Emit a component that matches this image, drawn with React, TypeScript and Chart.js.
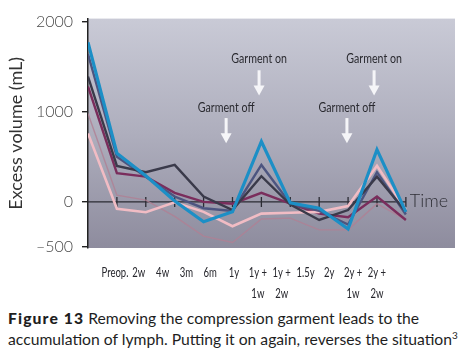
import React, { useEffect, useRef } from 'react';
import { Chart, registerables } from 'chart.js';

Chart.register(...registerables);

// ---- data ----
const categories = ['Preop.', '2w', '4w', '3m', '6m', '1y', '1y +\n1w', '1y +\n2w', '1.5y', '2y', '2y +\n1w', '2y +\n2w'];
const yTicks = [-500, 0, 1000, 2000];

const cyanSeries = [1770, 540, 290, 10, -220, -110, 670, -10, -70, -300, 580, -110];
const slateSeries = [1640, 500, 280, 60, -70, -100, 410, -20, -100, -250, 330, -140];
const charcoalSeries = [1390, 400, 330, 410, 60, -90, 285, -30, -200, -90, 280, -110];
const maroonSeries = [1280, 320, 280, 100, 0, -20, 100, -20, -130, -170, 60, -200];
const pinkSeries = [760, -75, -115, -5, -110, -270, -130, -120, -110, -45, 400, -90];
const mauveSeries = [980, 75, 20, -160, -380, -450, -190, -180, -310, -310, -20, -200];

// annotations: label, position along the time axis (category index), text value, arrow start, arrow end
const annLabels = ['Garment off', 'Garment on', 'Garment off', 'Garment on'];
const annIndex = [4.78, 5.92, 8.96, 9.9];
const annTextY = [1050, 1590, 1050, 1590];
const annArrowTop = [930, 1460, 930, 1460];
const annArrowBottom = [650, 1180, 650, 1180];

const HUMAN = 'Lato, "Open Sans", sans-serif';

const toPoints = (arr: number[]) => arr.map((v, i) => ({ x: i, y: v }));

// draws condensed text (real canvas text, squeezed horizontally)
function narrowText(ctx: CanvasRenderingContext2D, text: string, x: number, y: number, sx: number) {
  ctx.save();
  ctx.translate(x, y);
  ctx.scale(sx, 1);
  ctx.fillText(text, 0, 0);
  ctx.restore();
}

const bgPlugin = {
  id: 'bgGrad',
  beforeDraw(chart: any) {
    const { ctx, chartArea } = chart;
    const g = ctx.createLinearGradient(0, chartArea.top, 0, chartArea.bottom);
    g.addColorStop(0, '#c9cad6');
    g.addColorStop(0.5, '#aeaebd');
    g.addColorStop(1, '#8e8c9e');
    ctx.save();
    ctx.fillStyle = g;
    ctx.fillRect(chartArea.left, chartArea.top, chartArea.right - chartArea.left, chartArea.bottom - chartArea.top);
    ctx.restore();
  },
};

const zeroPlugin = {
  id: 'zeroAxis',
  beforeDatasetsDraw(chart: any) {
    const { ctx } = chart;
    const xs = chart.scales.x;
    const ys = chart.scales.y;
    const y0 = ys.getPixelForValue(0);
    const xEnd = xs.getPixelForValue(categories.length - 1);
    ctx.save();
    ctx.strokeStyle = '#2b2b33';
    ctx.lineWidth = 1.3;
    ctx.beginPath();
    ctx.moveTo(chart.chartArea.left, y0);
    ctx.lineTo(xEnd, y0);
    for (let i = 1; i < categories.length; i++) {
      const px = xs.getPixelForValue(i);
      ctx.moveTo(px, y0 - 5);
      ctx.lineTo(px, y0 + 5);
    }
    ctx.stroke();
    ctx.fillStyle = '#2f2f36';
    ctx.font = '300 18px ' + HUMAN;
    ctx.textAlign = 'left';
    ctx.textBaseline = 'middle';
    ctx.fillText('Time', xEnd + 4, y0 - 1);
    ctx.restore();
  },
};

const labelPlugin = {
  id: 'timeLabels',
  afterDraw(chart: any) {
    const { ctx } = chart;
    const xl = chart.scales.xl;
    const top = chart.chartArea.bottom;
    ctx.save();
    ctx.fillStyle = '#26262c';
    ctx.font = '14px ' + HUMAN;
    ctx.textAlign = 'center';
    ctx.textBaseline = 'middle';
    categories.forEach((c, i) => {
      const px = xl.getPixelForValue(i);
      c.split('\n').forEach((line, j) => {
        narrowText(ctx, line, px, top + 24 + j * 21, 0.68);
      });
    });
    ctx.restore();
  },
};

const annPlugin = {
  id: 'garmentNotes',
  afterDatasetsDraw(chart: any) {
    const { ctx } = chart;
    const xs = chart.scales.x;
    const ys = chart.scales.y;
    ctx.save();
    annLabels.forEach((lab, k) => {
      const px = xs.getPixelForValue(annIndex[k]);
      const ty = ys.getPixelForValue(annTextY[k]);
      const a0 = ys.getPixelForValue(annArrowTop[k]);
      const a1 = ys.getPixelForValue(annArrowBottom[k]);
      ctx.fillStyle = '#2a2a30';
      ctx.font = '14px ' + HUMAN;
      ctx.textAlign = 'center';
      ctx.textBaseline = 'middle';
      narrowText(ctx, lab, px, ty, 0.76);
      // arrow
      ctx.fillStyle = '#f5f5f8';
      ctx.fillRect(px - 1.5, a0, 3, a1 - a0 - 8);
      ctx.beginPath();
      ctx.moveTo(px - 5.5, a1 - 10);
      ctx.lineTo(px + 5.5, a1 - 10);
      ctx.lineTo(px, a1);
      ctx.closePath();
      ctx.fill();
    });
    ctx.restore();
  },
};

export default function App() {
  const ref = useRef<HTMLCanvasElement | null>(null);

  useEffect(() => {
    if (!ref.current) return;
    const mk = (label: string, data: number[], color: string, width: number) => ({
      label,
      data: toPoints(data),
      borderColor: color,
      backgroundColor: color,
      borderWidth: width,
      pointRadius: 0,
      tension: 0,
      fill: false,
    });
    const chart = new Chart(ref.current, {
      type: 'line',
      data: {
        datasets: [
          mk('Patient A', cyanSeries, '#1c8fc6', 3.2),
          mk('Patient B', charcoalSeries, '#3a3a4a', 2.4),
          mk('Patient C', slateSeries, '#4d5580', 2.4),
          mk('Patient D', pinkSeries, '#f1bcc4', 2.6),
          mk('Patient E', maroonSeries, '#7a2d5c', 2.4),
          mk('Patient F', mauveSeries, 'rgba(176,128,148,0.8)', 1.4),
        ],
      },
      options: {
        animation: false,
        responsive: false,
        maintainAspectRatio: false,
        layout: { padding: { top: 18, right: 3, left: 0, bottom: 0 } },
        plugins: { legend: { display: false }, tooltip: { enabled: false }, title: { display: false } },
        scales: {
          x: {
            type: 'linear',
            display: false,
            min: 0,
            max: 12.7,
          },
          xl: {
            type: 'linear',
            position: 'bottom',
            min: -1.134,
            max: 14.28,
            afterBuildTicks: (s: any) => {
              s.ticks = categories.map((_, i) => ({ value: i }));
            },
            afterFit: (s: any) => {
              s.height = 52;
            },
            grid: { display: false, drawTicks: false },
            border: { display: false },
            ticks: { display: false },
          },
          y: {
            type: 'linear',
            min: -511,
            max: 2033,
            afterBuildTicks: (s: any) => {
              s.ticks = yTicks.map((v) => ({ value: v }));
            },
            afterFit: (s: any) => {
              s.width = 88;
            },
            grid: { drawOnChartArea: false, drawTicks: true, tickLength: 6, color: '#222', lineWidth: 1.4 },
            border: { display: true, color: '#222', width: 1.5 },
            ticks: {
              padding: 9,
              color: '#4a4a4a',
              font: { family: HUMAN, size: 16, weight: '300' },
              callback: (v: any) => (v < 0 ? '\u2013' + Math.abs(v) : String(v)),
            },
            title: {
              display: true,
              text: 'Excess volume (mL)',
              color: '#333',
              padding: { top: 5, bottom: 0 },
              font: { family: HUMAN, size: 18, weight: '400' },
            },
          },
        },
      },
      plugins: [bgPlugin, zeroPlugin, annPlugin, labelPlugin],
    });
    return () => chart.destroy();
  }, []);

  return (
    <div style={{ position: 'fixed', left: 0, top: 0, width: 458, height: 354, background: '#fff', overflow: 'hidden' }}>
      <canvas ref={ref} width={458} height={300} style={{ display: 'block', width: 458, height: 300 }} />
      <div
        style={{
          position: 'absolute',
          left: 8,
          top: 308,
          width: 450,
          fontFamily: HUMAN,
          fontSize: 15.7,
          lineHeight: '21px',
          color: '#1e1e1e',
          whiteSpace: 'nowrap',
        }}
      >
        <div>
          <b style={{ fontWeight: 900, letterSpacing: 1.1 }}>Figure 13</b> Removing the compression garment leads to the
        </div>
        <div>
          accumulation of lymph. Putting it on again, reverses the situation
          <sup style={{ fontSize: 10, lineHeight: 0 }}>3</sup>
        </div>
      </div>
    </div>
  );
}
